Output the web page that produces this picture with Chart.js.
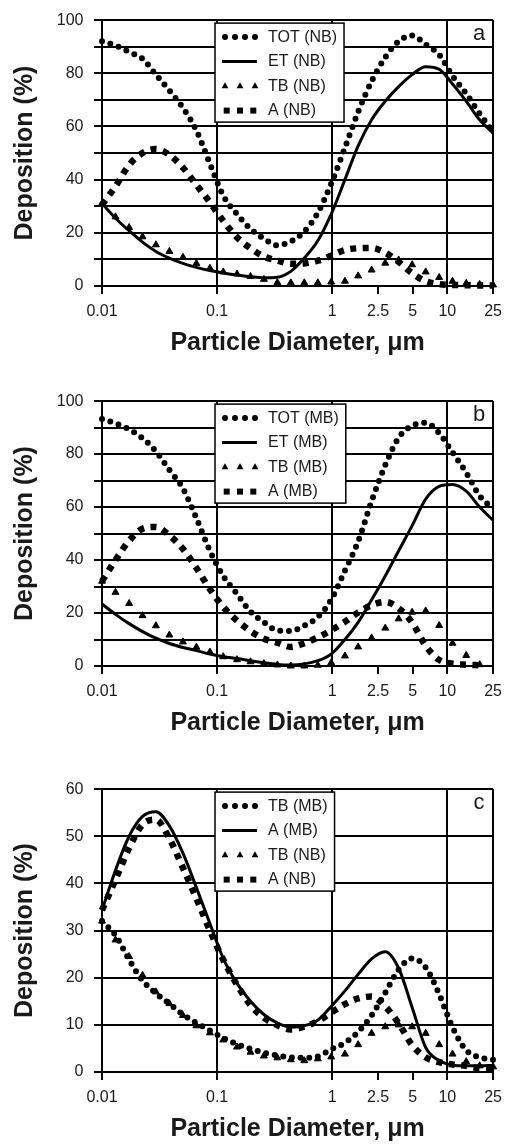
<!DOCTYPE html>
<html>
<head>
<meta charset="utf-8">
<script src="https://cdn.jsdelivr.net/npm/chart.js@4.4.1/dist/chart.umd.min.js"></script>
<style>
  body { margin: 0; background: #fff; width: 510px; height: 1145px; position: relative; overflow: hidden; }
  canvas { position: absolute; left: 0; }
</style>
</head>
<body>
<canvas id="chartA" width="510" height="358" style="top:0px"></canvas>
<canvas id="chartB" width="510" height="357" style="top:381px"></canvas>
<canvas id="chartC" width="510" height="375" style="top:769px"></canvas>
<script>
// particle diameters (um) shared by every series
const diam = [0.01, 0.0131, 0.0172, 0.0225, 0.0294, 0.0385, 0.0505, 0.0661, 0.0866, 0.113,
  0.149, 0.195, 0.255, 0.334, 0.437, 0.572, 0.75, 0.98, 1.29, 1.68,
  2.2, 2.89, 3.78, 4.95, 6.49, 8.5, 11.1, 14.6, 19.1, 25];

const xTicks = [0.01, 0.1, 1, 2.5, 5, 10, 25];
const xTickLabels = ['0.01', '0.1', '1', '2.5', '5', '10', '25'];
const xGridAt = [0.1, 1, 10, 25];

// panel a - nasal breathing
const totNB = [92, 90.5, 88, 85.5, 79.5, 73.5, 67, 58.5, 46, 34, 27, 21.5, 17.8, 15.3, 16.8, 20.5, 27.5, 38.5, 52, 65.5, 77, 86, 92, 94.2, 90.8, 87, 79, 72.3, 64.8, 58];
const etNB = [31, 25.5, 20.8, 16.5, 13, 10.5, 8.5, 7, 5.8, 4.9, 4.1, 3.5, 3.1, 3.3, 5.5, 10.5, 17, 27, 40, 52.7, 62.5, 69.5, 75, 79.5, 82.5, 81.5, 76, 69.5, 62.5, 57.5];
const tbNB = [31, 26, 22, 18.5, 15.5, 13, 10.8, 8.5, 6.7, 5.3, 4.5, 3.6, 2.5, 1.3, 1.2, 1.2, 1.2, 1.5, 1.8, 3.8, 6, 8.6, 9.8, 8, 5.3, 3.2, 1.8, 1, 0.6, 0.4];
const aNB = [30.5, 37.5, 45.5, 50, 51.5, 49.3, 44.5, 38, 31.5, 24.5, 18.3, 14.2, 11.1, 9.6, 8.4, 8.5, 9.5, 11.4, 13.5, 14.2, 14.3, 12.5, 9.1, 4.8, 1.8, 0.7, 0.4, 0.3, 0.2, 0.2];

// panel b - mouth breathing
const totMB = [93.2, 91.6, 89.3, 86, 81, 74, 67, 55.8, 43.5, 34, 27.2, 20.5, 16.5, 13.4, 13.2, 15.2, 18.5, 25, 36, 47, 62.2, 75.8, 86.2, 90.7, 91.8, 87.9, 80.6, 73, 64.2, 59.5];
const etMB = [23.4, 19.5, 16, 13, 10.5, 8.5, 7, 5.8, 4.5, 3.5, 2.8, 2, 1.2, 0.6, 0.4, 0.8, 2, 4.5, 10, 16.5, 25, 34, 43.5, 53, 63, 67.8, 68.5, 66, 60, 55];
const tbMB = [32, 27.8, 23.6, 19, 15.2, 11.7, 9.1, 7.1, 5.3, 3.5, 2.4, 1.6, 0.9, 0.4, 0, 0, 0.3, 1.2, 3.8, 7.2, 10.6, 14.3, 17.8, 20.3, 20.8, 15.3, 8.6, 4, 0.5, null];
const aMB = [32, 40, 47.3, 51.8, 52.5, 49.3, 44.2, 37, 29, 22.3, 17.1, 13.2, 10.3, 8.8, 7.2, 8.6, 10.8, 13.5, 16.7, 20.2, 23, 24.2, 21.8, 16.4, 7.6, 2.3, 0.9, 0.5, 0.3, null];

// panel c - TB and A, both breathing modes
const tbMBc = [32, 29, 23.8, 19.4, 16.7, 14.5, 12.2, 10.4, 8.8, 7.2, 5.9, 4.9, 4.1, 3.5, 3.1, 3, 3.3, 4.8, 6.2, 8.5, 12, 16.8, 21.7, 24.1, 22.2, 16.5, 9.5, 4.6, 3.1, 2.6];
const aMBc = [34.3, 42.8, 50, 54.2, 55.2, 52.2, 46.4, 39.1, 31.5, 24.1, 18.8, 15, 12.2, 10.4, 9.5, 9.8, 11, 13.9, 17.2, 20.7, 24, 25.5, 22, 13.7, 5.2, 2.4, 1.5, 1.3, 1.3, 1.4];
const tbNBc = [32, 28, 24.5, 20.5, 17, 14.5, 12, 9.8, 8.3, 6.8, 5.3, 4.2, 3.4, 3, 2.6, 2.4, 2.8, 3.2, 3.8, 5.8, 8.2, 9.6, 10, 9.6, 8.2, 5.8, 3.8, 2.2, 1.3, 1.1];
const aNBc = [34.3, 40.8, 47.5, 52.5, 53.5, 49.5, 43.3, 36.8, 30, 23.8, 18.5, 14.2, 11.5, 9.9, 9, 9.6, 10.8, 12.6, 14.4, 15.6, 16, 13.9, 10.3, 5.7, 3.1, 2.1, 1.6, 1.3, 0.8, 0.8];

const FONT = "'Liberation Sans', Arial, sans-serif";
const INK = '#1a1a1a';
Chart.defaults.font.family = FONT;

const pts = (vals) => diam.map((d, i) => ({ x: d, y: vals[i] }));

function dots(label, vals) {
  return { label, data: pts(vals), sample: 'dots', borderColor: '#000', borderWidth: 6,
    borderCapStyle: 'round', borderDash: [0, 8.7], pointRadius: 0,
    cubicInterpolationMode: 'monotone', clip: 8 };
}
function solid(label, vals) {
  return { label, data: pts(vals), sample: 'line', borderColor: '#000', borderWidth: 3,
    pointRadius: 0, cubicInterpolationMode: 'monotone', clip: 8 };
}
function tris(label, vals) {
  return { label, data: pts(vals), sample: 'tri', showLine: false, pointStyle: 'triangle',
    pointRadius: 4, pointBackgroundColor: '#000', pointBorderColor: '#000', pointBorderWidth: 1, clip: 8 };
}
function squares(label, vals) {
  return { label, data: pts(vals), sample: 'sq', borderColor: '#000', borderWidth: 6.5,
    borderCapStyle: 'butt', borderDash: [6, 6.5], pointRadius: 0,
    cubicInterpolationMode: 'monotone', clip: 8 };
}

function drawSample(ctx, kind, x, y) {
  ctx.fillStyle = '#000';
  ctx.strokeStyle = '#000';
  if (kind === 'dots') {
    for (let k = 0; k < 4; k++) {
      ctx.beginPath(); ctx.arc(x + 3 + k * 10, y, 3, 0, Math.PI * 2); ctx.fill();
    }
  } else if (kind === 'line') {
    ctx.lineWidth = 3;
    ctx.beginPath(); ctx.moveTo(x, y); ctx.lineTo(x + 35, y); ctx.stroke();
  } else if (kind === 'tri') {
    for (let k = 0; k < 3; k++) {
      const cx = x + 3 + k * 15;
      ctx.beginPath();
      ctx.moveTo(cx, y - 3.8); ctx.lineTo(cx + 3.4, y + 2.2); ctx.lineTo(cx - 3.4, y + 2.2);
      ctx.closePath(); ctx.fill();
    }
  } else if (kind === 'sq') {
    for (let k = 0; k < 3; k++) {
      ctx.fillRect(x + 4.7 + k * 13.3 - 3, y - 3, 6, 6);
    }
  }
}

// legend box and panel letter
const panelDecor = {
  id: 'panelDecor',
  afterDraw(chart, args, opts) {
    const { ctx, chartArea } = chart;
    ctx.save();
    ctx.font = '22px ' + FONT;
    ctx.fillStyle = INK;
    ctx.textAlign = 'center';
    ctx.textBaseline = 'middle';
    ctx.fillText(opts.letter, chartArea.right - 14, chartArea.top + 14);

    ctx.font = '16px ' + FONT;
    const sets = chart.data.datasets;
    const textW = Math.max(...sets.map(d => ctx.measureText(d.label).width));
    const bx = 215, by = chartArea.top + 3;
    const bw = 53 + textW + 7, bh = 99;
    ctx.fillStyle = '#fff';
    ctx.fillRect(bx, by, bw, bh);
    ctx.lineWidth = 1.5;
    ctx.strokeStyle = '#000';
    ctx.strokeRect(bx, by, bw, bh);
    sets.forEach((d, i) => {
      const cy = chartArea.top + 17 + i * 24.5;
      drawSample(ctx, d.sample, bx + 7, cy);
      ctx.fillStyle = INK;
      ctx.textAlign = 'left';
      ctx.fillText(d.label, bx + 53, cy);
    });
    ctx.restore();
  }
};

function makeChart(id, letter, yMax, yLabelStep, xAxisH, datasets) {
  return new Chart(document.getElementById(id), {
    type: 'line',
    data: { datasets },
    plugins: [panelDecor],
    options: {
      responsive: false,
      animation: false,
      events: [],
      layout: { padding: { left: 0, right: 12, top: 17, bottom: 0 } },
      plugins: {
        legend: { display: false },
        tooltip: { enabled: false },
        panelDecor: { letter }
      },
      scales: {
        x: {
          type: 'logarithmic',
          min: 0.01,
          max: 25,
          afterBuildTicks: (s) => { s.ticks = xTicks.map(v => ({ value: v })); },
          afterFit: (s) => { s.height = xAxisH; },
          ticks: {
            autoSkip: false, maxRotation: 0, color: INK, padding: 8,
            font: { size: 16 },
            callback: (v) => xTickLabels[xTicks.indexOf(v)]
          },
          grid: {
            color: (c) => (c.tick && xGridAt.includes(c.tick.value)) ? '#000' : 'rgba(0,0,0,0)',
            lineWidth: 2, tickLength: 8, tickColor: '#000'
          },
          border: { display: true, color: '#000', width: 2 },
          title: {
            display: true, text: 'Particle Diameter, μm', color: INK,
            font: { size: 25, weight: 'bold' }, padding: { top: 0, bottom: 0 }
          }
        },
        y: {
          min: 0,
          max: yMax,
          afterFit: (s) => { s.width = 102; },
          ticks: {
            stepSize: 10, color: INK, padding: 10.5,
            font: { size: 16 },
            callback: (v) => (v % yLabelStep === 0 ? v : '')
          },
          grid: { color: '#000', lineWidth: 2, tickLength: 8, tickColor: '#000' },
          border: { display: true, color: '#000', width: 2 },
          title: {
            display: true, text: 'Deposition (%)', color: INK,
            font: { size: 25, weight: 'bold' }, padding: { top: 10, bottom: 0 }
          }
        }
      }
    }
  });
}

makeChart('chartA', 'a', 100, 20, 72, [
  dots('TOT (NB)', totNB),
  solid('ET (NB)', etNB),
  tris('TB (NB)', tbNB),
  squares('A (NB)', aNB)
]);

makeChart('chartB', 'b', 100, 20, 72, [
  dots('TOT (MB)', totMB),
  solid('ET (MB)', etMB),
  tris('TB (MB)', tbMB),
  squares('A (MB)', aMB)
]);

makeChart('chartC', 'c', 60, 10, 72, [
  dots('TB (MB)', tbMBc),
  solid('A (MB)', aMBc),
  tris('TB (NB)', tbNBc),
  squares('A (NB)', aNBc)
]);
</script>
</body>
</html>
